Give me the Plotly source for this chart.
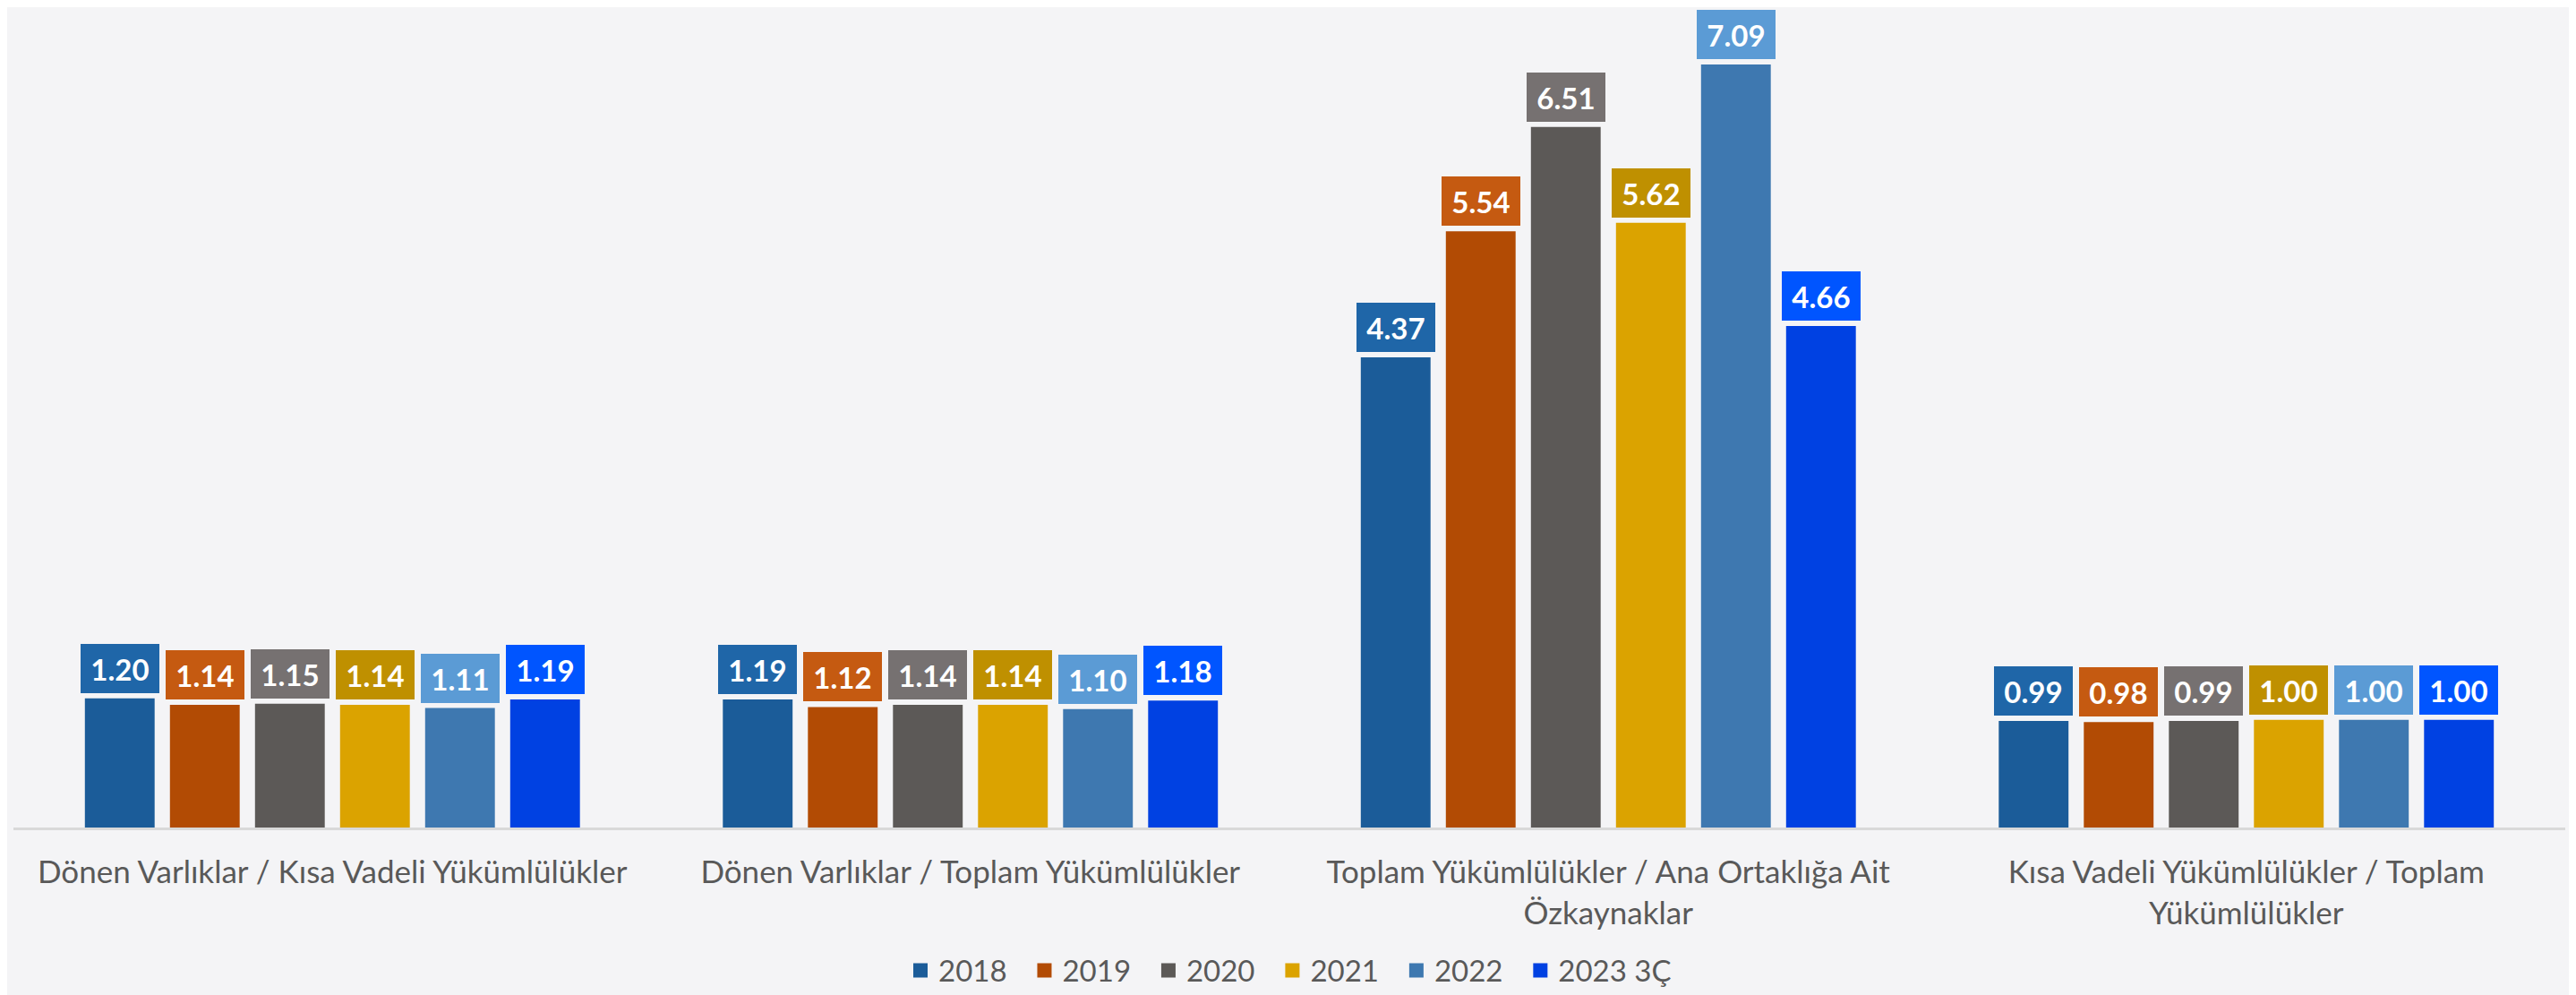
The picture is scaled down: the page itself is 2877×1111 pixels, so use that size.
import plotly.graph_objects as go

# categories (x axis)
categories = [
    "Dönen Varlıklar / Kısa Vadeli Yükümlülükler",
    "Dönen Varlıklar / Toplam Yükümlülükler",
    "Toplam Yükümlülükler / Ana Ortaklığa Ait<br>Özkaynaklar",
    "Kısa Vadeli Yükümlülükler / Toplam<br>Yükümlülükler",
]

years = ["2018", "2019", "2020", "2021", "2022", "2023 3Ç"]

v2018 = [1.20, 1.19, 4.37, 0.99]
v2019 = [1.14, 1.12, 5.54, 0.98]
v2020 = [1.15, 1.14, 6.51, 0.99]
v2021 = [1.14, 1.14, 5.62, 1.00]
v2022 = [1.11, 1.10, 7.09, 1.00]
v2023 = [1.19, 1.18, 4.66, 1.00]
series = [v2018, v2019, v2020, v2021, v2022, v2023]

bar_colors = ["#1B5C99", "#B24B04", "#5C5957", "#DBA300", "#3E78B0", "#0041E2"]
label_colors = ["#1F66A8", "#C55A11", "#767171", "#BF9000", "#5B9BD5", "#0055FF"]

bg = "#F4F4F6"
bargap = 0.2
n = len(years)
slot = (1 - bargap) / n

fig = go.Figure()

for j, (name, vals) in enumerate(zip(years, series)):
    fig.add_trace(go.Bar(
        x=categories, y=vals, name=name,
        marker=dict(color=bar_colors[j], line=dict(width=0)),
        showlegend=False, hoverinfo="skip",
    ))
    # legend entry with a larger square, padded so entries are spread like the original
    pad = "\u00a0\u00a0" if j < n - 1 else ""
    fig.add_trace(go.Scatter(
        x=[None], y=[None], mode="markers", name=name + pad,
        marker=dict(symbol="square", size=20, color=bar_colors[j]),
    ))

annotations = []
for j, vals in enumerate(series):
    for i, v in enumerate(vals):
        annotations.append(dict(
            x=i + (j - (n - 1) / 2) * slot, y=v, xref="x", yref="y",
            text=f"<b>{v:.2f}</b>", showarrow=False,
            yanchor="bottom", yshift=6,
            bgcolor=label_colors[j], borderwidth=0, width=86, height=53,
            font=dict(family="Lato", size=33, color="white"),
        ))

fig.update_layout(
    width=2877, height=1111,
    paper_bgcolor=bg, plot_bgcolor=bg,
    margin=dict(l=7, r=20, t=10, b=186),
    barmode="group", bargap=bargap, bargroupgap=0.18,
    font=dict(family="Lato", color="#595959"),
    showlegend=True,
    legend=dict(
        orientation="h", x=0.5, xanchor="center", y=-0.176, yanchor="middle",
        font=dict(size=33, color="#595959"), itemsizing="trace",
        bgcolor="rgba(0,0,0,0)",
    ),
    annotations=annotations,
)

fig.update_xaxes(
    showline=True, linecolor="#D9D9D9", linewidth=3,
    showgrid=False, ticks="", tickfont=dict(size=35, color="#595959"),
    ticklabelstandoff=17,
)
fig.update_yaxes(visible=False, range=[0, 7.54], showgrid=False, zeroline=False)

fig.write_html("out.html")
